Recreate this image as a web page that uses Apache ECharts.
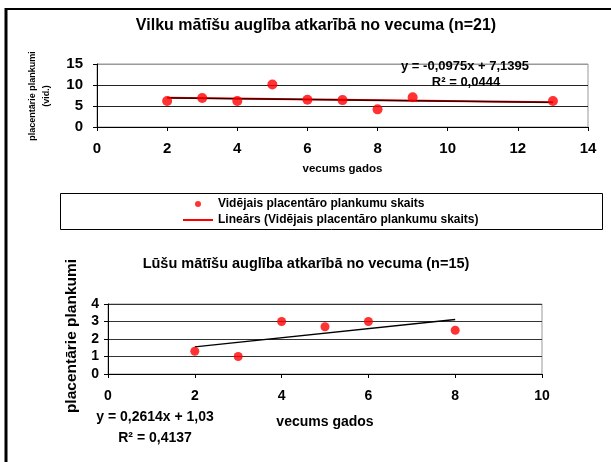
<!DOCTYPE html>
<html>
<head>
<meta charset="utf-8">
<script src="https://cdn.jsdelivr.net/npm/echarts@6/dist/echarts.min.js"></script>
<style>
  html, body { margin: 0; padding: 0; background: #fff; }
  #chart { width: 611px; height: 462px; }
</style>
</head>
<body>
<div id="chart"></div>
<script>
// wolves: mean placental scars by age
const wolfAges = [2, 3, 4, 5, 6, 7, 8, 9, 13];
const wolfScars = [6.2, 6.9, 6.2, 10.1, 6.5, 6.4, 4.2, 7.1, 6.2];
const wolfTrend = [[2, 6.94], [13, 5.87]];
const wolfXTicks = [0, 2, 4, 6, 8, 10, 12, 14];
const wolfYTicks = [0, 5, 10, 15];

// lynx
const lynxAges = [2, 3, 4, 5, 6, 8];
const lynxScars = [1.3, 1.0, 3.0, 2.7, 3.0, 2.5];
const lynxTrend = [[2, 1.55], [8, 3.12]];
const lynxXTicks = [0, 2, 4, 6, 8, 10];
const lynxYTicks = [0, 1, 2, 3, 4];

const FONT = '"Liberation Sans", Arial, sans-serif';
const dotName = 'Vidējais placentāro plankumu skaits';
const lineName = 'Lineārs (Vidējais placentāro plankumu skaits)';

const chart = echarts.init(document.getElementById('chart'), null, { renderer: 'canvas' });

function pairs(xs, ys) {
    return xs.map((x, i) => [x, ys[i]]);
}

function axisBase(ticks, labelSize, margin) {
    return {
        type: 'value',
        min: ticks[0],
        max: ticks[ticks.length - 1],
        interval: ticks[1] - ticks[0],
        axisLine: { show: true, lineStyle: { color: '#000', width: 1 } },
        axisTick: { show: true, length: 4, lineStyle: { color: '#000' } },
        axisLabel: { color: '#000', fontFamily: FONT, fontWeight: 'bold', fontSize: labelSize, margin: margin },
        splitLine: { show: false }
    };
}

const option = {
    backgroundColor: '#fff',
    animation: false,
    grid: [
        { left: 97, top: 64, width: 491, height: 63, show: true, borderColor: '#999', borderWidth: 1, backgroundColor: 'transparent' },
        { left: 108, top: 304, width: 434, height: 70, show: true, borderColor: '#999', borderWidth: 1, backgroundColor: 'transparent' }
    ],
    xAxis: [
        Object.assign(axisBase(wolfXTicks, 15, 14), {
            gridIndex: 0,
            name: 'vecums gados',
            nameLocation: 'middle',
            nameGap: 36,
            nameTextStyle: { color: '#000', fontFamily: FONT, fontWeight: 'bold', fontSize: 11.5 }
        }),
        Object.assign(axisBase(lynxXTicks, 14, 15), {
            gridIndex: 1,
            name: 'vecums gados',
            nameLocation: 'middle',
            nameGap: 41,
            nameTextStyle: { color: '#000', fontFamily: FONT, fontWeight: 'bold', fontSize: 14 }
        })
    ],
    yAxis: [
        Object.assign(axisBase(wolfYTicks, 15, 14), {
            gridIndex: 0,
            splitLine: { show: true, lineStyle: { color: ['#000', '#222', '#222', '#999'], width: 1 } }
        }),
        Object.assign(axisBase(lynxYTicks, 14, 9), {
            gridIndex: 1,
            splitLine: { show: true, lineStyle: { color: '#333', width: 1 } }
        })
    ],
    legend: {
        left: 183,
        top: 197,
        padding: 0,
        orient: 'vertical',
        itemWidth: 30,
        itemHeight: 6,
        itemGap: 2,
        textStyle: { color: '#000', fontFamily: FONT, fontWeight: 'bold', fontSize: 12, lineHeight: 14 },
        data: [
            { name: dotName, icon: 'circle' },
            { name: lineName, icon: 'path://M0,0h30v2h-30z', itemStyle: { color: '#ff0000' } }
        ]
    },
    series: [
        {
            name: dotName,
            type: 'scatter',
            xAxisIndex: 0,
            yAxisIndex: 0,
            symbol: 'circle',
            symbolSize: 10,
            itemStyle: { color: '#ff0000' },
            data: pairs(wolfAges, wolfScars),
            z: 5
        },
        {
            name: lineName,
            type: 'line',
            xAxisIndex: 0,
            yAxisIndex: 0,
            symbol: 'none',
            itemStyle: { color: '#ff0000' },
            lineStyle: { color: '#ff0000', width: 2 },
            data: wolfTrend,
            z: 3
        },
        {
            name: 'wolf trend',
            type: 'line',
            xAxisIndex: 0,
            yAxisIndex: 0,
            symbol: 'none',
            lineStyle: { color: '#1a0000', width: 1.2 },
            data: wolfTrend,
            z: 4
        },
        {
            name: 'lynx',
            type: 'scatter',
            xAxisIndex: 1,
            yAxisIndex: 1,
            symbol: 'circle',
            symbolSize: 9,
            itemStyle: { color: '#ff0000' },
            data: pairs(lynxAges, lynxScars),
            z: 5
        },
        {
            name: 'lynx trend',
            type: 'line',
            xAxisIndex: 1,
            yAxisIndex: 1,
            symbol: 'none',
            lineStyle: { color: '#000', width: 1.5 },
            data: lynxTrend,
            z: 4
        }
    ],
    graphic: [
        // outer frame (top and left edges visible)
        { type: 'line', shape: { x1: 5, y1: 9, x2: 611, y2: 9 }, style: { stroke: '#000', lineWidth: 2 } },
        { type: 'line', shape: { x1: 6, y1: 8, x2: 6, y2: 462 }, style: { stroke: '#000', lineWidth: 3 } },
        // legend box
        { type: 'rect', shape: { x: 60.5, y: 193.5, width: 542, height: 36 }, style: { fill: 'none', stroke: '#000', lineWidth: 1 }, z: -1 },
        // titles
        { type: 'text', x: 316, y: 26, style: { text: 'Vilku mātīšu auglība atkarībā no vecuma (n=21)', font: 'bold 16px ' + FONT, fill: '#000', align: 'center', verticalAlign: 'middle' } },
        { type: 'text', x: 306, y: 264, style: { text: 'Lūšu mātīšu auglība atkarībā no vecuma (n=15)', font: 'bold 14.5px ' + FONT, fill: '#000', align: 'center', verticalAlign: 'middle' } },
        // y axis names
        { type: 'text', x: 33, y: 96, rotation: Math.PI / 2, style: { text: 'placentārie plankumi', font: 'bold 9px ' + FONT, fill: '#000', align: 'center', verticalAlign: 'middle' } },
        { type: 'text', x: 47, y: 96, rotation: Math.PI / 2, style: { text: '(vid.)', font: 'bold 9px ' + FONT, fill: '#000', align: 'center', verticalAlign: 'middle' } },
        { type: 'text', x: 72, y: 336, rotation: Math.PI / 2, style: { text: 'placentārie plankumi', font: 'bold 15.5px ' + FONT, fill: '#000', align: 'center', verticalAlign: 'middle' } },
        // regression labels
        { type: 'text', x: 465, y: 66, style: { text: 'y = -0,0975x + 7,1395', font: 'bold 13px ' + FONT, fill: '#000', align: 'center', verticalAlign: 'middle' }, z: 10 },
        { type: 'text', x: 466, y: 82, style: { text: 'R² = 0,0444', font: 'bold 13px ' + FONT, fill: '#000', align: 'center', verticalAlign: 'middle' }, z: 10 },
        { type: 'text', x: 155, y: 417, style: { text: 'y = 0,2614x + 1,03', font: 'bold 14px ' + FONT, fill: '#000', align: 'center', verticalAlign: 'middle' } },
        { type: 'text', x: 155, y: 438, style: { text: 'R² = 0,4137', font: 'bold 14px ' + FONT, fill: '#000', align: 'center', verticalAlign: 'middle' } }
    ]
};

chart.setOption(option);
</script>
</body>
</html>
